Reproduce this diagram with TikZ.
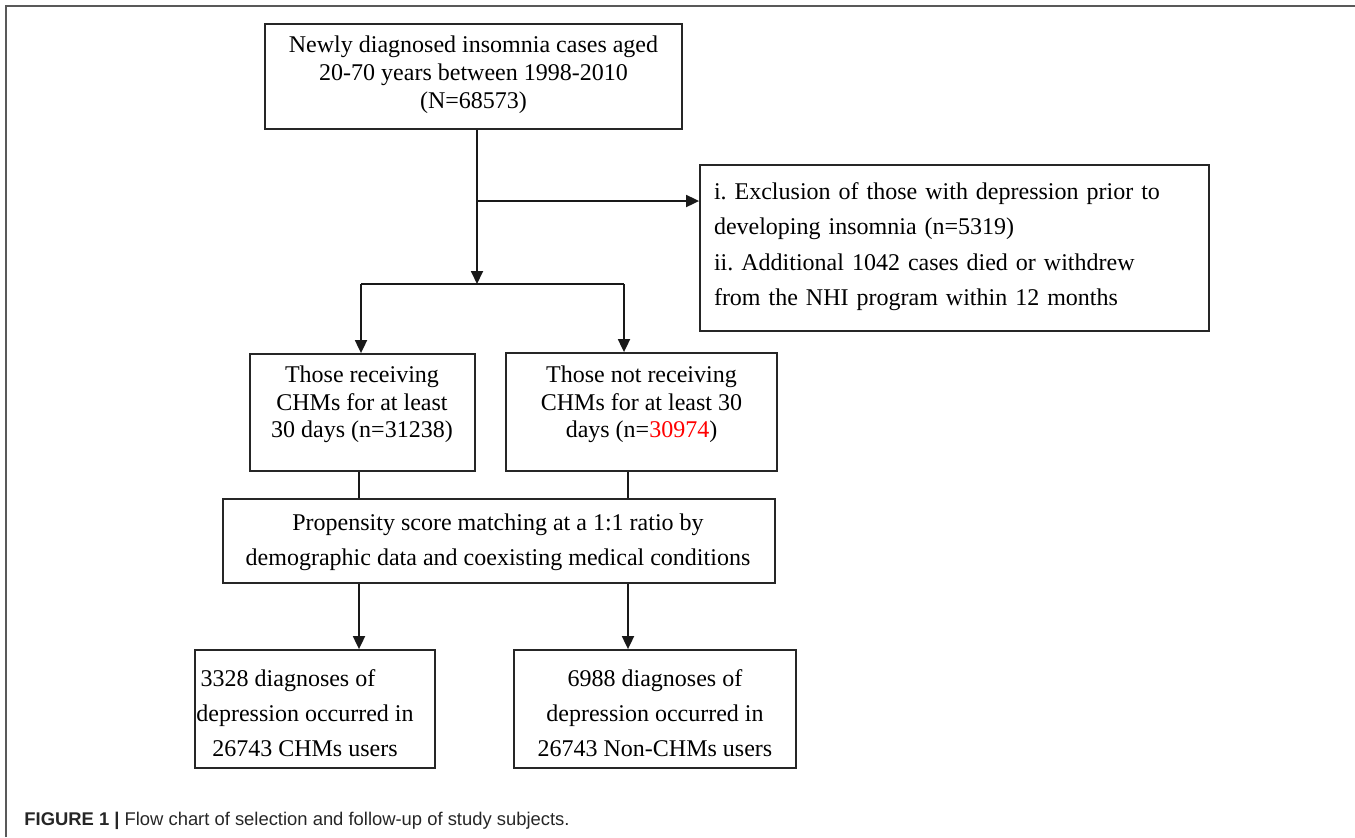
\documentclass[tikz,border=0pt]{standalone}
\usepackage{fontspec}
\setmainfont{Liberation Serif}
\newfontfamily\capfont{Liberation Sans}
\usetikzlibrary{arrows.meta}
\frenchspacing
\begin{document}
\begin{tikzpicture}[x=0.5pt,y=-0.5pt,
  box/.style={draw=black!85,line width=0.9pt,inner sep=0pt},
  txt/.style={inner sep=0pt,align=center},
  ln/.style={draw=black!90,line width=0.9pt},
  arr/.style={ln,-{Triangle[length=6.5pt,width=6pt]}},
  frame/.style={draw=black!65,line width=1pt}]
\useasboundingbox (0,0) rectangle (1355,837);
\draw[frame] (6,837) -- (6,6) -- (1355,6);

% boxes
\node[box,minimum width=208.5pt,minimum height=52.5pt] (top) at (473.5,76.5) {};
\node[box,minimum width=254.5pt,minimum height=83pt] (excl) at (954.5,248) {};
\node[box,minimum width=112.5pt,minimum height=58.5pt] (recv) at (362.5,412.5) {};
\node[box,minimum width=135.5pt,minimum height=59pt] (notrecv) at (641.5,412) {};
\node[box,minimum width=276pt,minimum height=42pt] (prop) at (499,541) {};
\node[box,minimum width=120pt,minimum height=59pt] (bl) at (315,709) {};
\node[box,minimum width=141pt,minimum height=59pt] (br) at (655,709) {};

% texts
\node[txt,font=\fontsize{12}{14}\selectfont] (topt) at (473.5,75)
  {Newly diagnosed insomnia cases aged\\20-70 years between 1998-2010\\(N=68573)};
\node[txt,align=left,text width=240.5pt,font=\fontsize{12}{17.75}\selectfont] (exclt) at (954.5,246.5)
  {i. Exclusion of those with depression prior to\\developing insomnia (n=5319)\\ii. Additional 1042 cases died or withdrew\\from the NHI program within 12 months};
\node[txt,font=\fontsize{12}{13.75}\selectfont] (recvt) at (362,404.5)
  {Those receiving\\CHMs for at least\\30 days (n=31238)};
\node[txt,font=\fontsize{12}{13.75}\selectfont] (notrecvt) at (641.5,404.5)
  {Those not receiving\\CHMs for at least 30\\days (n=\textcolor{red}{30974})};
\node[txt,font=\fontsize{12}{17.5}\selectfont] (propt) at (498,542.5)
  {Propensity score matching at a 1:1 ratio by\\demographic data and coexisting medical conditions};
\node[txt,font=\fontsize{12}{17.5}\selectfont] (blt) at (305,713)
  {3328 diagnoses of\hspace*{17pt}\\depression occurred in\\26743 CHMs users};
\node[txt,font=\fontsize{12}{17.5}\selectfont] (brt) at (655,713)
  {6988 diagnoses of\\depression occurred in\\26743 Non-CHMs users};

% connectors
\coordinate (s0) at (477,284);
\coordinate (b1) at (477,201);
\coordinate (sl) at (361,284);
\coordinate (sr) at (624,284);
\coordinate (cl) at (359,541);
\coordinate (cr) at (628,541);
\draw[arr] (top.south -| s0) -- (s0);
\draw[arr] (b1) -- (excl.west |- b1);
\draw[ln] (sl) -- (sr);
\draw[arr] (sl) -- (recv.north -| sl);
\draw[arr] (sr) -- (notrecv.north -| sr);
\draw[ln] (recv.south -| cl) -- (prop.north -| cl);
\draw[ln] (notrecv.south -| cr) -- (prop.north -| cr);
\draw[arr] (prop.south -| cl) -- (bl.north -| cl);
\draw[arr] (prop.south -| cr) -- (br.north -| cr);

% caption
\node[anchor=base west,inner sep=0pt,text=black!85,font=\capfont\fontsize{9.2}{11}\selectfont] (cap) at (24,825)
  {\textbf{FIGURE 1 |} Flow chart of selection and follow-up of study subjects.};
\end{tikzpicture}
\end{document}
